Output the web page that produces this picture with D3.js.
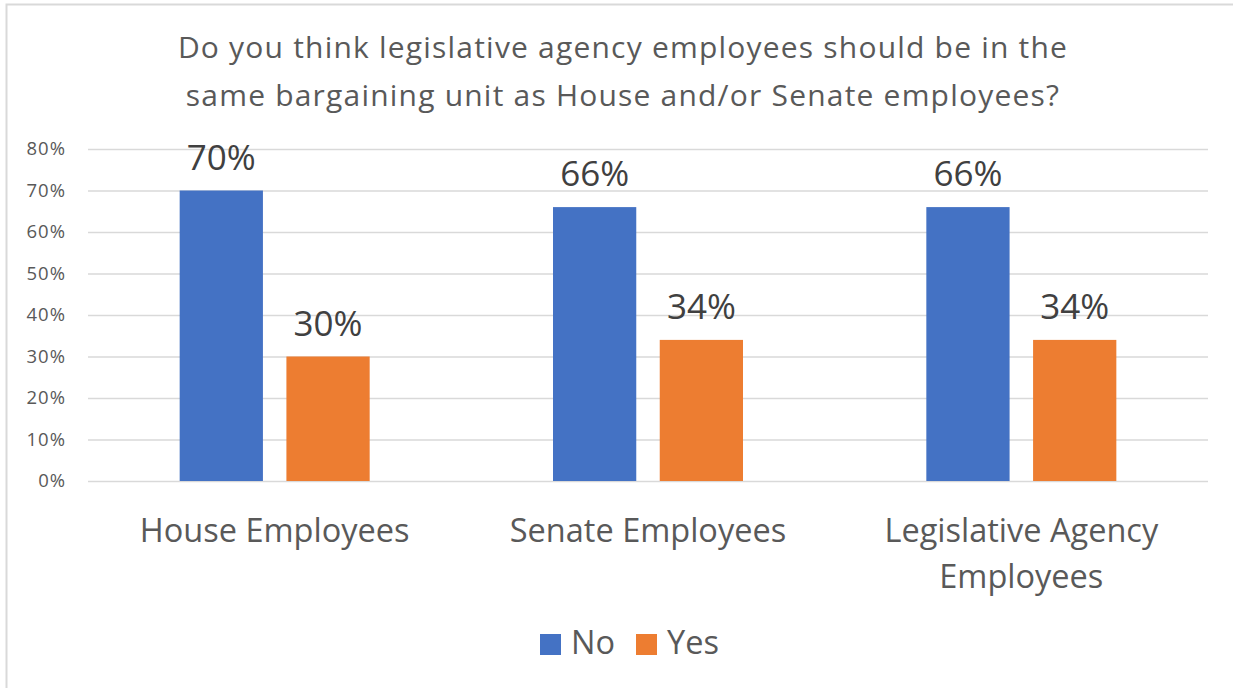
<!DOCTYPE html>
<html>
<head>
<meta charset="utf-8">
<script src="https://cdn.jsdelivr.net/npm/d3@7"></script>
<style>
  html, body { margin: 0; padding: 0; background: #fff; }
  svg { display: block; font-family: "Open Sans", "Noto Sans", sans-serif; }
</style>
</head>
<body>
<svg id="chart" width="1233" height="688"></svg>
<script>
// Survey responses per employee group
const categories = ["House Employees", "Senate Employees", "Legislative Agency Employees"];
const categoryLines = [["House Employees"], ["Senate Employees"], ["Legislative Agency", "Employees"]];
const seriesNames = ["No", "Yes"];
const noValues = [0.70, 0.66, 0.66];
const yesValues = [0.30, 0.34, 0.34];
const yTicks = [0, 0.1, 0.2, 0.3, 0.4, 0.5, 0.6, 0.7, 0.8];
const titleLines = [
  "Do you think legislative agency employees should be in the",
  "same bargaining unit as House and/or Senate employees?"
];
const colors = { No: "#4472C4", Yes: "#ED7D31" };

const svg = d3.select("#chart");
const W = 1233, H = 688;

// Chart frame
svg.append("rect")
  .attr("x", 6.5).attr("y", 4.5)
  .attr("width", W + 10).attr("height", H + 10)
  .attr("fill", "#fff").attr("stroke", "#d9d9d9").attr("stroke-width", 2);

// Title
svg.append("text")
  .attr("text-anchor", "middle")
  .attr("fill", "#595959")
  .style("font-size", "30px")
  .style("letter-spacing", "1.2px")
  .selectAll("tspan").data(titleLines).join("tspan")
  .attr("x", 623).attr("y", (d, i) => 58 + i * 48)
  .text(d => d);

const plot = { left: 88, right: 1208, top: 149, bottom: 481 };

const y = d3.scaleLinear().domain([0, 0.8]).range([plot.bottom, plot.top]);
const x0 = d3.scaleBand().domain(categories).range([plot.left, plot.right]).padding(0);
const groupW = 190;
const x1 = d3.scaleBand().domain(seriesNames)
  .range([(x0.bandwidth() - groupW) / 2, (x0.bandwidth() + groupW) / 2])
  .paddingInner(0.22).paddingOuter(0);

// Gridlines and y axis
const yAxis = d3.axisLeft(y).tickValues(yTicks).tickFormat(d3.format(".0%"))
  .tickSize(-(plot.right - plot.left)).tickPadding(22);
const gy = svg.append("g").attr("transform", `translate(${plot.left},0)`).call(yAxis);
gy.select(".domain").remove();
gy.selectAll(".tick line").attr("stroke", "#d9d9d9").attr("stroke-width", 1.3);
gy.selectAll(".tick text").attr("fill", "#595959")
  .style("font-size", "18.5px").style("letter-spacing", "1px")
  .style("font-family", "'Open Sans', sans-serif");

// Bars
const rows = categories.map((c, i) => ({ cat: c, vals: [
  { key: "No", v: noValues[i] }, { key: "Yes", v: yesValues[i] }] }));

const groups = svg.append("g").selectAll("g").data(rows).join("g")
  .attr("transform", d => `translate(${x0(d.cat)},0)`);

groups.selectAll("rect").data(d => d.vals).join("rect")
  .attr("x", d => x1(d.key))
  .attr("width", x1.bandwidth())
  .attr("y", d => y(d.v))
  .attr("height", d => y(0) - y(d.v))
  .attr("fill", d => colors[d.key]);

// Value labels
groups.selectAll("text.val").data(d => d.vals).join("text")
  .attr("class", "val")
  .attr("x", d => x1(d.key) + x1.bandwidth() / 2)
  .attr("y", d => y(d.v) - 21)
  .attr("text-anchor", "middle")
  .attr("fill", "#404040")
  .style("font-size", "35px")
  .text(d => d3.format(".0%")(d.v));

// Category labels
const catG = svg.append("g").selectAll("text").data(categories).join("text")
  .attr("text-anchor", "middle")
  .attr("fill", "#595959")
  .style("font-size", "32.5px");
catG.selectAll("tspan").data((d, i) => categoryLines[i].map(t => ({ t, c: d }))).join("tspan")
  .attr("x", d => x0(d.c) + x0.bandwidth() / 2)
  .attr("y", (d, i) => 542 + i * 46)
  .text(d => d.t);

// Legend
const legItems = [{ key: "No", x: 540 }, { key: "Yes", x: 636 }];
const legend = svg.append("g");
legend.selectAll("rect").data(legItems).join("rect")
  .attr("x", d => d.x).attr("y", 634).attr("width", 21).attr("height", 21)
  .attr("fill", d => colors[d.key]);
legend.selectAll("text").data(legItems).join("text")
  .attr("x", d => d.x + 31).attr("y", 654)
  .attr("fill", "#595959").style("font-size", "32.5px")
  .text(d => d.key);
</script>
</body>
</html>
